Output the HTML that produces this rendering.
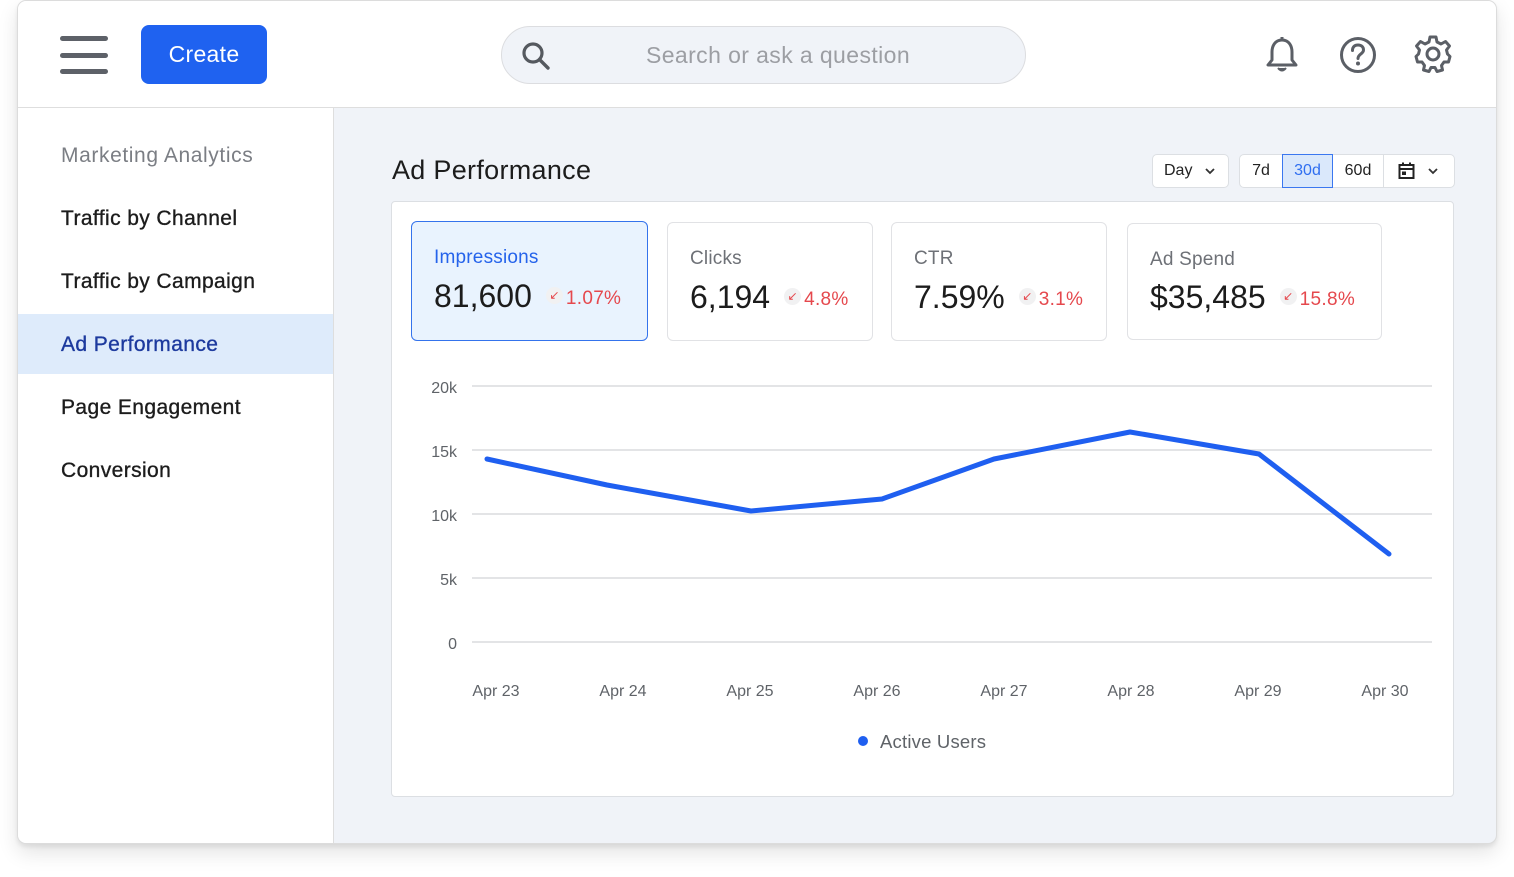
<!DOCTYPE html>
<html><head><meta charset="utf-8">
<style>
*{box-sizing:border-box;margin:0;padding:0}
html,body{width:1514px;height:877px;background:#fff;overflow:hidden;font-family:"Liberation Sans",sans-serif}
.abs{position:absolute}
#frame{left:17px;top:0px;width:1480px;height:844px;border:1px solid #dcdcdc;border-radius:9px;background:#f0f3f8;overflow:hidden;box-shadow:0 9px 20px rgba(0,0,0,0.11),0 3px 4px rgba(0,0,0,0.07)}
#header{left:0;top:0;width:1480px;height:107px;background:#fff;border-bottom:1px solid #dedede}
#side{left:0;top:107px;width:316px;height:740px;background:#fff;border-right:1px solid #dedede}
.ham{left:42px;width:48px;height:5px;border-radius:3px;background:#5d6168}
#create{left:123px;top:23px;width:126px;height:59px;border-radius:8px;background:#1f62f0;color:#fff;font-size:23px;line-height:59px;text-align:center;letter-spacing:0.3px}
#search{left:483px;top:24px;width:525px;height:58px;border-radius:29px;background:#f0f3f8;border:1px solid #dcdde0}
#search span{position:absolute;left:144px;top:0;line-height:56px;font-size:23px;color:#9c9ea3;letter-spacing:0.4px}
.nav{left:43px;font-size:21px;color:#1c1c1c;-webkit-text-stroke:0.35px #1c1c1c;line-height:30px;letter-spacing:0.4px}
#sel{left:0;width:315px;height:60px;background:#deebfb}
.btn{background:#fff;border:1px solid #dcdfe3;border-radius:5px;font-size:16px;color:#222;line-height:31px;text-align:center}
.kpi{background:#fff;border:1.5px solid #e1e2e5;border-radius:6px}
.kl{position:absolute;left:22px;top:25px;font-size:19px;color:#6e7177;letter-spacing:0.2px}
.kv{position:absolute;left:22px;top:56px;font-size:32px;color:#1c1c1c;white-space:nowrap}
.kv .d{font-size:19px;color:#e5484d;position:relative;top:-3px;letter-spacing:0.3px}
.kv .ic{display:inline-block;width:17px;height:17px;border-radius:50%;background:#f1f1f2;color:#e5484d;font-size:12px;line-height:17px;text-align:center;position:relative;top:-3px;margin:0 3px 0 14px;vertical-align:middle}
</style></head><body>
<div id="frame" class="abs">
  <div id="header" class="abs">
    <div class="abs ham" style="top:35px"></div>
    <div class="abs ham" style="top:52px"></div>
    <div class="abs ham" style="top:68px"></div>
    <div id="create" class="abs" style="top:24px">Create</div>
    <div id="search" class="abs" style="top:25px">
      <svg class="abs" style="left:16px;top:11px" width="36" height="36" viewBox="0 0 36 36"><circle cx="15" cy="15" r="9" fill="none" stroke="#55595f" stroke-width="3.2"/><line x1="21.5" y1="21.5" x2="30" y2="30" stroke="#55595f" stroke-width="3.4" stroke-linecap="round"/></svg>
      <span>Search or ask a question</span>
    </div>
    <!-- bell -->
    <svg class="abs" style="left:1244px;top:34px" width="40" height="40" viewBox="0 0 40 40"><path d="M20 5 C13 5 10 11 10 17 L10 25 L6 30 L34 30 L30 25 L30 17 C30 11 27 5 20 5 Z" fill="none" stroke="#5b5f66" stroke-width="3" stroke-linejoin="round"/><line x1="20" y1="2" x2="20" y2="5" stroke="#5b5f66" stroke-width="3"/><path d="M16 33 Q20 38 24 33" fill="#5b5f66" stroke="#5b5f66" stroke-width="2"/></svg>
    <!-- help -->
    <svg class="abs" style="left:1320px;top:34px" width="40" height="40" viewBox="0 0 40 40"><circle cx="20" cy="20" r="16.5" fill="none" stroke="#5b5f66" stroke-width="3"/><path d="M14.5 15.5 C14.5 11.5 17 10 20 10 C23.5 10 25.5 12 25.5 15 C25.5 19 20 19 20 23.5" fill="none" stroke="#5b5f66" stroke-width="3" stroke-linecap="round"/><circle cx="20" cy="28.5" r="2" fill="#5b5f66"/></svg>
    <!-- gear -->
    <svg class="abs" style="left:1395px;top:33px" width="40" height="40" viewBox="0 0 40 40"><g fill="none" stroke="#5b5f66" stroke-width="3" stroke-linejoin="round"><path d="M17 3 L23 3 L24 8 L28 10 L32.5 7.5 L36.5 12 L33.5 16 L34.5 20 L37 22.5 L35.5 28 L31 28 L28.5 31.5 L29.5 36 L24 37.5 L22 33.5 L18 33.5 L16 37.5 L10.5 36 L11.5 31.5 L9 28 L4.5 28 L3 22.5 L5.5 20 L6.5 16 L3.5 12 L7.5 7.5 L12 10 L16 8 Z"/><circle cx="20" cy="20" r="6"/></g></svg>
  </div>
  <div id="side" class="abs">
    <div id="sel" class="abs" style="top:206px"></div>
    <div class="abs nav" style="top:33px;color:#7b7e84;-webkit-text-stroke:0;font-size:21px;letter-spacing:0.6px">Marketing Analytics</div>
    <div class="abs nav" style="top:96px">Traffic by Channel</div>
    <div class="abs nav" style="top:159px">Traffic by Campaign</div>
    <div class="abs nav" style="top:222px;color:#1d3a9e;-webkit-text-stroke:0.35px #1d3a9e">Ad Performance</div>
    <div class="abs nav" style="top:285px">Page Engagement</div>
    <div class="abs nav" style="top:348px">Conversion</div>
  </div>
  <div class="abs" style="left:374px;top:153px;font-size:27px;color:#1c1c1c;line-height:32px;letter-spacing:0.3px">Ad Performance</div>
  <!-- controls -->
  <div class="abs btn" style="left:1134px;top:153px;width:77px;height:34px;text-align:left;padding-left:11px">Day<svg class="abs" style="left:51px;top:11px" width="12" height="10" viewBox="0 0 12 10"><path d="M2 3 L6 7 L10 3" fill="none" stroke="#333" stroke-width="1.8"/></svg></div>
  <div class="abs btn" style="left:1221px;top:153px;width:216px;height:34px"></div>
  <div class="abs" style="left:1222px;top:154px;width:42px;height:32px;font-size:16px;line-height:32px;text-align:center;color:#222">7d</div>
  <div class="abs" style="left:1264px;top:153px;width:51px;height:34px;background:#dae8fb;border:1.5px solid #3a77f0;font-size:16px;line-height:31px;text-align:center;color:#2f6ef0">30d</div>
  <div class="abs" style="left:1315px;top:154px;width:51px;height:32px;font-size:16px;line-height:32px;text-align:center;color:#222;border-right:1px solid #dcdfe3">60d</div>
  <svg class="abs" style="left:1379px;top:160px" width="20" height="20" viewBox="0 0 20 20"><rect x="2.5" y="4" width="14" height="13" fill="none" stroke="#222" stroke-width="2"/><line x1="2.5" y1="8" x2="16.5" y2="8" stroke="#222" stroke-width="2"/><line x1="6" y1="1.5" x2="6" y2="5" stroke="#222" stroke-width="2"/><line x1="13" y1="1.5" x2="13" y2="5" stroke="#222" stroke-width="2"/><rect x="5" y="10.5" width="4" height="3.5" fill="#222"/></svg>
  <svg class="abs" style="left:1409px;top:165px" width="12" height="10" viewBox="0 0 12 10"><path d="M2 3 L6 7 L10 3" fill="none" stroke="#333" stroke-width="1.8"/></svg>
  <!-- card -->
  <div class="abs" style="left:373px;top:200px;width:1063px;height:596px;background:#fff;border:1px solid #dcdfe3;border-radius:4px"></div>
  <div class="abs kpi" style="left:393px;top:220px;width:237px;height:120px;background:#e9f3fe;border-color:#3473ec">
    <div class="kl" style="color:#2563eb">Impressions</div>
    <div class="kv">81,600<span class="ic">&#8601;</span><span class="d">1.07%</span></div>
  </div>
  <div class="abs kpi" style="left:649px;top:221px;width:206px;height:119px">
    <div class="kl">Clicks</div>
    <div class="kv">6,194<span class="ic">&#8601;</span><span class="d">4.8%</span></div>
  </div>
  <div class="abs kpi" style="left:873px;top:221px;width:216px;height:119px">
    <div class="kl">CTR</div>
    <div class="kv">7.59%<span class="ic">&#8601;</span><span class="d">3.1%</span></div>
  </div>
  <div class="abs kpi" style="left:1109px;top:222px;width:255px;height:117px">
    <div class="kl">Ad Spend</div>
    <div class="kv" style="top:55px">$35,485<span class="ic">&#8601;</span><span class="d">15.8%</span></div>
  </div>
</div>
<svg class="abs" style="left:0;top:0" width="1514" height="877" viewBox="0 0 1514 877">
  <g stroke="#e3e4e6" stroke-width="2">
    <line x1="472" y1="386" x2="1432" y2="386"/>
    <line x1="472" y1="450" x2="1432" y2="450"/>
    <line x1="472" y1="514" x2="1432" y2="514"/>
    <line x1="472" y1="578" x2="1432" y2="578"/>
    <line x1="472" y1="642" x2="1432" y2="642"/>
  </g>
  <g font-family="Liberation Sans, sans-serif" font-size="16" fill="#5f6368" text-anchor="end">
    <text x="457" y="393">20k</text>
    <text x="457" y="457">15k</text>
    <text x="457" y="521">10k</text>
    <text x="457" y="585">5k</text>
    <text x="457" y="649">0</text>
  </g>
  <g font-family="Liberation Sans, sans-serif" font-size="16" fill="#5f6368" text-anchor="middle">
    <text x="496" y="696">Apr 23</text>
    <text x="623" y="696">Apr 24</text>
    <text x="750" y="696">Apr 25</text>
    <text x="877" y="696">Apr 26</text>
    <text x="1004" y="696">Apr 27</text>
    <text x="1131" y="696">Apr 28</text>
    <text x="1258" y="696">Apr 29</text>
    <text x="1385" y="696">Apr 30</text>
  </g>
  <polyline points="487,459 607,485 751,511 882,499 994,459 1130,432 1259,454 1389,554" fill="none" stroke="#1f5ff0" stroke-width="5" stroke-linejoin="round" stroke-linecap="round"/>
  <circle cx="863" cy="741" r="5" fill="#1f5ff0"/>
  <text x="880" y="748" font-family="Liberation Sans, sans-serif" font-size="18.5" fill="#5f6368" letter-spacing="0.2">Active Users</text>
</svg>
</body></html>
